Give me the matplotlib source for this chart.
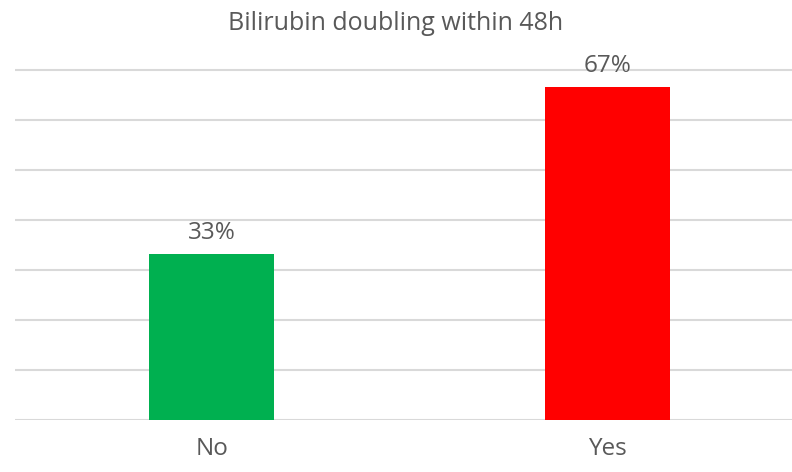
import matplotlib
matplotlib.use("Agg")
import matplotlib.pyplot as plt

categories = ["No", "Yes"]
values = [33.3, 66.7]
labels = ["33%", "67%"]
colors = ["#00B050", "#FF0000"]
title = "Bilirubin doubling within 48h"

plt.rcParams['font.family'] = ['Open Sans', 'DejaVu Sans']
txt = "#595959"

fig = plt.figure(figsize=(7.92, 4.72), dpi=100)
# axes: x from 15px to 792px, y baseline at 420px, 10% = 50px
ax = fig.add_axes([15 / 792, 52 / 472, 777 / 792, 360 / 472])
ax.set_ylim(0, 72)
ax.set_xlim(-0.497, 1.465)

for y in range(0, 80, 10):
    ax.axhline(y, color="#d9d9d9", lw=1.5, zorder=0)

x = range(len(categories))
ax.bar(x, values, width=0.315, color=colors, zorder=2)
for i, v in enumerate(values):
    ax.text(i, v + 1.8, labels[i], ha="center", va="bottom", fontsize=17.5, color=txt)

ax.set_xticks(list(x))
ax.set_xticklabels(categories, fontsize=17.5, color=txt)
ax.tick_params(axis="x", length=0, pad=12)
ax.set_yticks([])
for s in ax.spines.values():
    s.set_visible(False)

fig.text(0.5, 1 - 24 / 472, title, ha="center", va="center", fontsize=18, color=txt)

fig.savefig("out.png", dpi=100)
